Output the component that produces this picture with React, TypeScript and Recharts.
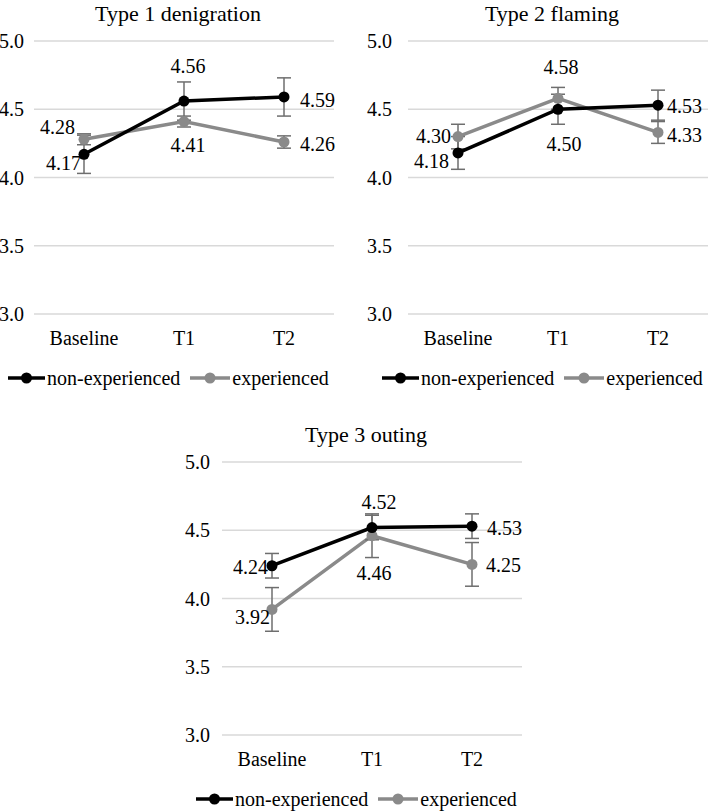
import React from 'react';
import { LineChart, Line, XAxis, YAxis, CartesianGrid, ErrorBar, LabelList, Legend } from 'recharts';

const categories = ['Baseline', 'T1', 'T2'];
const yTicks = [3.0, 3.5, 4.0, 4.5, 5.0];

const denigrationNon = [4.17, 4.56, 4.59];
const denigrationNonErr = [0.14, 0.14, 0.14];
const denigrationExp = [4.28, 4.41, 4.26];
const denigrationExpErr = [0.04, 0.04, 0.045];

const flamingNon = [4.18, 4.5, 4.53];
const flamingNonErr = [0.12, 0.11, 0.11];
const flamingExp = [4.3, 4.58, 4.33];
const flamingExpErr = [0.09, 0.08, 0.08];

const outingNon = [4.24, 4.52, 4.53];
const outingNonErr = [0.09, 0.09, 0.09];
const outingExp = [3.92, 4.46, 4.25];
const outingExpErr = [0.16, 0.16, 0.16];

const FONT = "'Liberation Serif', 'Times New Roman', Times, serif";
const BLACK = '#000000';
const GRAY = '#8a8a8a';
const ERR = '#6e6e6e';

type Place = { anchor: 'start' | 'middle' | 'end'; dx: number; dy: number };
const P = (anchor: Place['anchor'], dx: number, dy: number): Place => ({ anchor, dx, dy });

const place1Non = [P('end', -3, 9), P('middle', 4, -35), P('start', 16, 3)];
const place1Exp = [P('end', -9, -12), P('middle', 4, 23), P('start', 16, 2)];
const place2Non = [P('end', -9, 8), P('middle', 6, 35), P('start', 9, 1)];
const place2Exp = [P('end', -7, -1), P('middle', 3, -31), P('start', 9, 3)];
const place3Non = [P('end', -4, 1), P('middle', 7, -26), P('start', 15, 2)];
const place3Exp = [P('end', -2, 8), P('middle', 2, 37), P('start', 14, 1)];

function buildRows(non: number[], nonErr: number[], exp: number[], expErr: number[]) {
  return categories.map((c, i) => ({ cat: c, non: non[i], nonErr: nonErr[i], exp: exp[i], expErr: expErr[i] }));
}

const makeLabel = (places: Place[]) => (props: any) => {
  const { x, y, value, index } = props;
  const p = places[index];
  return (
    <text
      x={x + p.dx}
      y={y + p.dy}
      textAnchor={p.anchor}
      dominantBaseline="central"
      style={{ fontFamily: FONT }}
      fontSize={20}
      fill="#000"
    >
      {Number(value).toFixed(2)}
    </text>
  );
};

const LegendContent = () => (
  <div style={{ display: 'flex', alignItems: 'center', height: 30, paddingLeft: 34, fontFamily: FONT, fontSize: 20, whiteSpace: 'nowrap', color: '#000' }}>
    <svg width={37} height={12}>
      <line x1={0} y1={6} x2={37} y2={6} stroke={BLACK} strokeWidth={3.5} />
      <circle cx={18.5} cy={6} r={5.5} fill={BLACK} />
    </svg>
    <span style={{ marginLeft: 2 }}>non-experienced</span>
    <svg width={40} height={12} style={{ marginLeft: 10 }}>
      <line x1={0} y1={6} x2={40} y2={6} stroke={GRAY} strokeWidth={3.5} />
      <circle cx={20} cy={6} r={5.5} fill={GRAY} />
    </svg>
    <span style={{ marginLeft: 2 }}>experienced</span>
  </div>
);

type PanelProps = {
  left: number;
  top: number;
  title: string;
  rows: any[];
  nonPlace: Place[];
  expPlace: Place[];
  yTickMargin: number;
};

const tickStyle = { fontFamily: FONT, fontSize: 20, fill: '#000' };

function Panel({ left, top, title, rows, nonPlace, expPlace, yTickMargin }: PanelProps) {
  return (
    <div style={{ position: 'absolute', left, top, width: 366, height: 395 }}>
      <div style={{ position: 'absolute', left: 26, top: 3, width: 356, textAlign: 'center', fontFamily: FONT, fontSize: 22, lineHeight: '22px', color: '#000' }}>
        {title}
      </div>
      <LineChart width={366} height={395} data={rows} margin={{ top: 41, right: 6, left: 0, bottom: 2 }}>
        <CartesianGrid vertical={false} stroke="#d9d9d9" strokeWidth={1.5} />
        <XAxis
          dataKey="cat"
          axisLine={false}
          tickLine={false}
          tickSize={0}
          tickMargin={17}
          height={49}
          padding={{ left: 50, right: 50 }}
          tick={tickStyle}
        />
        <YAxis
          domain={[3, 5]}
          ticks={yTicks}
          axisLine={false}
          tickLine={false}
          tickSize={0}
          tickMargin={yTickMargin}
          width={60}
          tickFormatter={(v: number) => v.toFixed(1)}
          tick={tickStyle}
        />
        <Legend verticalAlign="bottom" align="left" height={30} content={<LegendContent />} />
        <Line
          dataKey="exp"
          stroke={GRAY}
          strokeWidth={3.5}
          dot={{ r: 5.5, fill: GRAY, stroke: GRAY, strokeWidth: 0 }}
          isAnimationActive={false}
        >
          <ErrorBar dataKey="expErr" width={7} stroke={ERR} strokeWidth={1.5} direction="y" />
          <LabelList dataKey="exp" content={makeLabel(expPlace)} />
        </Line>
        <Line
          dataKey="non"
          stroke={BLACK}
          strokeWidth={3.5}
          dot={{ r: 5.5, fill: BLACK, stroke: BLACK, strokeWidth: 0 }}
          isAnimationActive={false}
        >
          <ErrorBar dataKey="nonErr" width={7} stroke={ERR} strokeWidth={1.5} direction="y" />
          <LabelList dataKey="non" content={makeLabel(nonPlace)} />
        </Line>
      </LineChart>
    </div>
  );
}

export default function App() {
  return (
    <div style={{ position: 'absolute', left: 0, top: 0, width: 710, height: 811, background: '#fff', overflow: 'hidden' }}>
      <Panel left={-26} top={0} title="Type 1 denigration" rows={buildRows(denigrationNon, denigrationNonErr, denigrationExp, denigrationExpErr)} nonPlace={place1Non} expPlace={place1Exp} yTickMargin={10} />
      <Panel left={348} top={0} title="Type 2 flaming" rows={buildRows(flamingNon, flamingNonErr, flamingExp, flamingExpErr)} nonPlace={place2Non} expPlace={place2Exp} yTickMargin={16} />
      <Panel left={162} top={421} title="Type 3 outing" rows={buildRows(outingNon, outingNonErr, outingExp, outingExpErr)} nonPlace={place3Non} expPlace={place3Exp} yTickMargin={12} />
    </div>
  );
}
